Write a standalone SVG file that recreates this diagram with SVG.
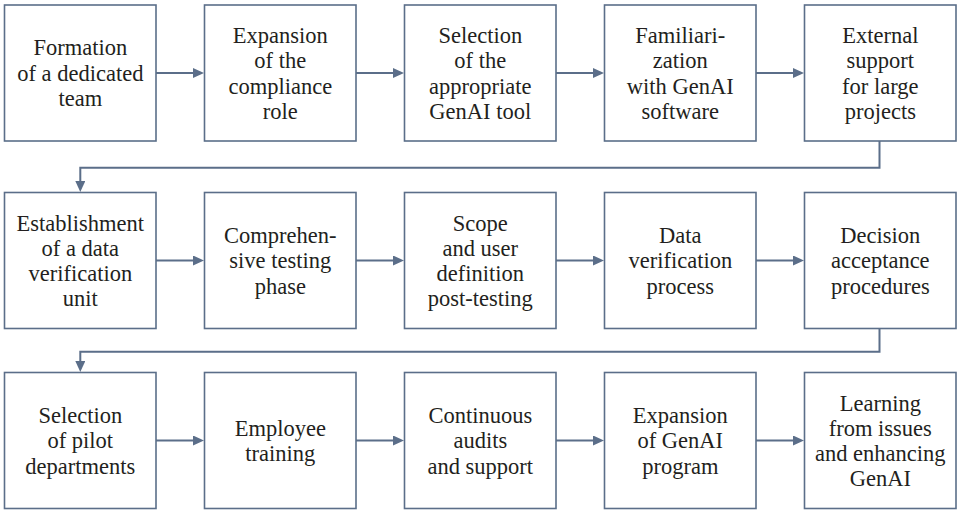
<svg xmlns="http://www.w3.org/2000/svg" width="957" height="511" viewBox="0 0 957 511">
  <style>
    .box { fill: #ffffff; stroke: #5b6e89; stroke-width: 1.6; }
    .lbl { font-family: 'Liberation Serif', 'DejaVu Serif', 'Times New Roman', serif; font-size: 22.5px; fill: #231f20; text-anchor: middle; }
    .link { fill: none; stroke: #5b6e89; stroke-width: 2; }
  </style>
  <defs>
    <marker id="arrow" viewBox="0 0 11 10" refX="1" refY="5" markerWidth="11" markerHeight="10" markerUnits="userSpaceOnUse" orient="auto">
      <path d="M0,0 L11,5 L0,10 z" fill="#5b6e89"/>
    </marker>
  </defs>
  <rect width="957" height="511" fill="#ffffff"/>

  <!-- connectors -->
  <g id="connectors">
    <path class="link" d="M156,73 H194" marker-end="url(#arrow)"/>
    <path class="link" d="M356,73 H394" marker-end="url(#arrow)"/>
    <path class="link" d="M556,73 H594" marker-end="url(#arrow)"/>
    <path class="link" d="M756,73 H794" marker-end="url(#arrow)"/>
    <path class="link" d="M879.5,141 V167.7 H80.3 V182" marker-end="url(#arrow)"/>
    <path class="link" d="M156,260.5 H194" marker-end="url(#arrow)"/>
    <path class="link" d="M356,260.5 H394" marker-end="url(#arrow)"/>
    <path class="link" d="M556,260.5 H594" marker-end="url(#arrow)"/>
    <path class="link" d="M756,260.5 H794" marker-end="url(#arrow)"/>
    <path class="link" d="M879.5,328.5 V351.7 H80.3 V362" marker-end="url(#arrow)"/>
    <path class="link" d="M156,440.5 H194" marker-end="url(#arrow)"/>
    <path class="link" d="M356,440.5 H394" marker-end="url(#arrow)"/>
    <path class="link" d="M556,440.5 H594" marker-end="url(#arrow)"/>
    <path class="link" d="M756,440.5 H794" marker-end="url(#arrow)"/>
  </g>

  <!-- row 1 -->
  <g id="n1">
    <rect class="box" x="4.5" y="5" width="151.5" height="136"/>
    <text class="lbl" font-family="Liberation Serif, serif"><tspan x="80.3" y="55.4">Formation</tspan><tspan x="80.3" y="80.7">of a dedicated</tspan><tspan x="80.3" y="106">team</tspan></text>
  </g>
  <g id="n2">
    <rect class="box" x="204.5" y="5" width="151.5" height="136"/>
    <text class="lbl"><tspan x="280.3" y="43">Expansion</tspan><tspan x="280.3" y="68.3">of the</tspan><tspan x="280.3" y="93.6">compliance</tspan><tspan x="280.3" y="118.9">role</tspan></text>
  </g>
  <g id="n3">
    <rect class="box" x="404.5" y="5" width="151.5" height="136"/>
    <text class="lbl"><tspan x="480.3" y="43">Selection</tspan><tspan x="480.3" y="68.3">of the</tspan><tspan x="480.3" y="93.6">appropriate</tspan><tspan x="480.3" y="118.9">GenAI tool</tspan></text>
  </g>
  <g id="n4">
    <rect class="box" x="604.5" y="5" width="151.5" height="136"/>
    <text class="lbl"><tspan x="680.3" y="43">Familiari-</tspan><tspan x="680.3" y="68.3">zation</tspan><tspan x="680.3" y="93.6">with GenAI</tspan><tspan x="680.3" y="118.9">software</tspan></text>
  </g>
  <g id="n5">
    <rect class="box" x="804.5" y="5" width="151.5" height="136"/>
    <text class="lbl"><tspan x="880.3" y="43">External</tspan><tspan x="880.3" y="68.3">support</tspan><tspan x="880.3" y="93.6">for large</tspan><tspan x="880.3" y="118.9">projects</tspan></text>
  </g>

  <!-- row 2 -->
  <g id="n6">
    <rect class="box" x="4.5" y="192.5" width="151.5" height="136"/>
    <text class="lbl"><tspan x="80.3" y="230.5">Establishment</tspan><tspan x="80.3" y="255.8">of a data</tspan><tspan x="80.3" y="281.1">verification</tspan><tspan x="80.3" y="306.4">unit</tspan></text>
  </g>
  <g id="n7">
    <rect class="box" x="204.5" y="192.5" width="151.5" height="136"/>
    <text class="lbl"><tspan x="280.3" y="242.9">Comprehen-</tspan><tspan x="280.3" y="268.2">sive testing</tspan><tspan x="280.3" y="293.5">phase</tspan></text>
  </g>
  <g id="n8">
    <rect class="box" x="404.5" y="192.5" width="151.5" height="136"/>
    <text class="lbl"><tspan x="480.3" y="230.5">Scope</tspan><tspan x="480.3" y="255.8">and user</tspan><tspan x="480.3" y="281.1">definition</tspan><tspan x="480.3" y="306.4">post-testing</tspan></text>
  </g>
  <g id="n9">
    <rect class="box" x="604.5" y="192.5" width="151.5" height="136"/>
    <text class="lbl"><tspan x="680.3" y="242.9">Data</tspan><tspan x="680.3" y="268.2">verification</tspan><tspan x="680.3" y="293.5">process</tspan></text>
  </g>
  <g id="n10">
    <rect class="box" x="804.5" y="192.5" width="151.5" height="136"/>
    <text class="lbl"><tspan x="880.3" y="242.9">Decision</tspan><tspan x="880.3" y="268.2">acceptance</tspan><tspan x="880.3" y="293.5">procedures</tspan></text>
  </g>

  <!-- row 3 -->
  <g id="n11">
    <rect class="box" x="4.5" y="372.5" width="151.5" height="136"/>
    <text class="lbl"><tspan x="80.3" y="422.9">Selection</tspan><tspan x="80.3" y="448.2">of pilot</tspan><tspan x="80.3" y="473.5">departments</tspan></text>
  </g>
  <g id="n12">
    <rect class="box" x="204.5" y="372.5" width="151.5" height="136"/>
    <text class="lbl"><tspan x="280.3" y="435.9">Employee</tspan><tspan x="280.3" y="461.2">training</tspan></text>
  </g>
  <g id="n13">
    <rect class="box" x="404.5" y="372.5" width="151.5" height="136"/>
    <text class="lbl"><tspan x="480.3" y="422.9">Continuous</tspan><tspan x="480.3" y="448.2">audits</tspan><tspan x="480.3" y="473.5">and support</tspan></text>
  </g>
  <g id="n14">
    <rect class="box" x="604.5" y="372.5" width="151.5" height="136"/>
    <text class="lbl"><tspan x="680.3" y="422.9">Expansion</tspan><tspan x="680.3" y="448.2">of GenAI</tspan><tspan x="680.3" y="473.5">program</tspan></text>
  </g>
  <g id="n15">
    <rect class="box" x="804.5" y="372.5" width="151.5" height="136"/>
    <text class="lbl"><tspan x="880.3" y="410.5">Learning</tspan><tspan x="880.3" y="435.8">from issues</tspan><tspan x="880.3" y="461.1">and enhancing</tspan><tspan x="880.3" y="486.4">GenAI</tspan></text>
  </g>
</svg>
